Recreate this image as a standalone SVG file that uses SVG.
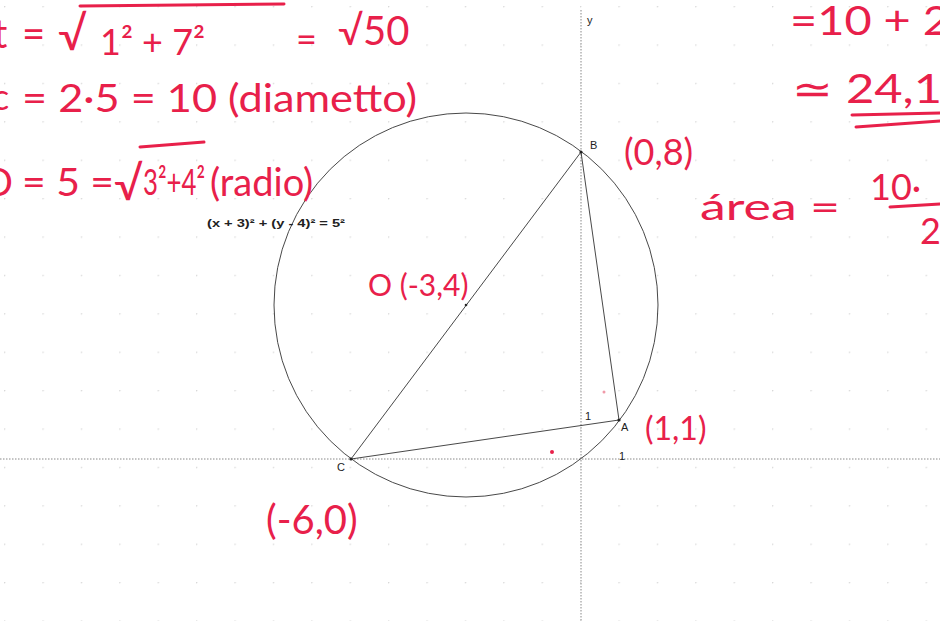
<svg xmlns="http://www.w3.org/2000/svg" width="940" height="621" viewBox="0 0 940 621">
<defs>
<style>
.hw{font-family:"Lato","Liberation Sans",sans-serif;fill:#e8204a;font-weight:400}
.lbl{font-family:"Liberation Sans",Arial,sans-serif;fill:#222;font-size:11px}
.ax{stroke:#888;stroke-width:1;stroke-dasharray:1.5 1.5;fill:none}
.geo{stroke:#333;stroke-width:0.9;fill:none}
.ink{stroke:#e8204a;stroke-width:3;fill:none;stroke-linecap:round}
</style>
<pattern id="dots" x="4" y="6" width="38.4" height="38.4" patternUnits="userSpaceOnUse">
<circle cx="0.5" cy="0.5" r="0.9" fill="#d8d8d8"/>
</pattern>
</defs>
<rect width="940" height="621" fill="#ffffff"/>
<rect width="940" height="621" fill="url(#dots)"/>
<g id="axes">
<line class="ax" x1="0" y1="459" x2="940" y2="459"/>
<line class="ax" x1="581" y1="10" x2="581" y2="621"/>
<text class="lbl" x="587" y="24" font-size="8" fill="#666">y</text>
<text class="lbl" x="585" y="420">1</text>
<text class="lbl" x="619" y="460">1</text>
</g>
<g id="circle">
<circle class="geo" cx="466" cy="305" r="192"/>
<circle cx="466" cy="305" r="1.3" fill="#222"/>
</g>
<g id="connectors">
<line class="geo" x1="351" y1="459" x2="581" y2="152"/>
<line class="geo" x1="581" y1="152" x2="619" y2="420"/>
<line class="geo" x1="351" y1="459" x2="619" y2="420"/>
</g>
<g id="pointA"><circle cx="619" cy="420" r="1.6" fill="#222"/><text class="lbl" x="621" y="431">A</text></g>
<g id="pointB"><circle cx="581" cy="152" r="1.6" fill="#222"/><text class="lbl" x="590" y="149">B</text></g>
<g id="pointC"><circle cx="351" cy="459" r="1.6" fill="#222"/><text class="lbl" x="337" y="471">C</text></g>
<g id="equation"><text class="lbl" x="207" y="227" font-weight="bold" textLength="138" lengthAdjust="spacingAndGlyphs">(x + 3)² + (y - 4)² = 5²</text></g>
<g id="handwriting">
<text class="hw" x="-7" y="48" font-size="40">t</text>
<text class="hw" x="22" y="48" font-size="40">=</text>
<text class="hw" x="58" y="50" font-size="46">√</text>
<line class="ink" x1="80" y1="6" x2="284" y2="4"/>
<text class="hw" x="100" y="55" font-size="36">1² + 7²</text>
<text class="hw" x="296" y="52" font-size="36">=</text>
<text class="hw" x="338" y="45" font-size="40">√50</text>
<text class="hw" x="-8" y="110" font-size="36">c</text>
<text class="hw" x="22" y="112" font-size="38" textLength="395" lengthAdjust="spacingAndGlyphs">= 2·5 = 10 (diametto)</text>
<text class="hw" x="-16" y="196" font-size="38">D</text>
<text class="hw" x="22" y="196" font-size="38" textLength="92" lengthAdjust="spacingAndGlyphs">= 5 =</text>
<text class="hw" x="114" y="200" font-size="46">√</text>
<line class="ink" x1="140" y1="147" x2="204" y2="142"/>
<text class="hw" x="143" y="195" font-size="36" textLength="62" lengthAdjust="spacingAndGlyphs">3²+4²</text>
<text class="hw" x="210" y="196" font-size="38">(radio)</text>
<text class="hw" x="368" y="296" font-size="30">O (-3,4)</text>
<text class="hw" x="624" y="165" font-size="36">(0,8)</text>
<text class="hw" x="645" y="440" font-size="32">(1,1)</text>
<text class="hw" x="266" y="534" font-size="40">(-6,0)</text>
<text class="hw" x="790" y="35" font-size="40" textLength="160" lengthAdjust="spacingAndGlyphs">=10 + 2</text>
<text class="hw" x="792" y="103" font-size="40" textLength="150" lengthAdjust="spacingAndGlyphs">≃ 24,1</text>
<line class="ink" x1="852" y1="115" x2="940" y2="113"/>
<line class="ink" x1="856" y1="127" x2="940" y2="121"/>
<text class="hw" x="700" y="220" font-size="36" textLength="140" lengthAdjust="spacingAndGlyphs">área =</text>
<text class="hw" x="870" y="200" font-size="36">10·</text>
<line class="ink" x1="890" y1="207" x2="940" y2="204"/>
<text class="hw" x="920" y="244" font-size="36">2</text>
<circle cx="552" cy="452" r="2" fill="#e8204a"/>
<circle cx="604" cy="392" r="1.5" fill="#f09aa8"/>
</g>
</svg>
